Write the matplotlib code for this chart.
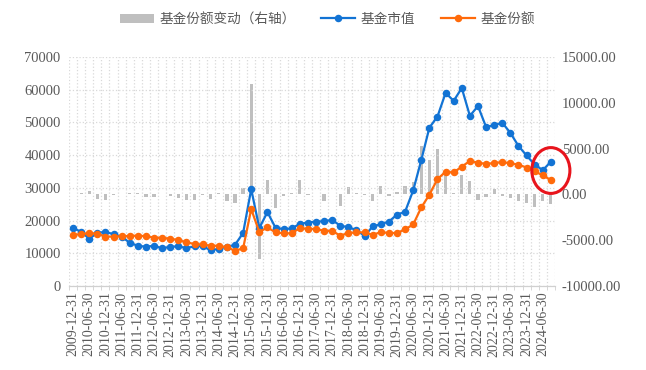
import numpy as np
import pandas as pd
import matplotlib
matplotlib.use("Agg")
import matplotlib.pyplot as plt
from matplotlib.patches import Ellipse, Patch
from matplotlib.lines import Line2D

plt.rcParams['font.family'] = ['Liberation Serif', 'Noto Sans CJK SC', 'DejaVu Sans']

# quarter-end dates 2009-12-31 .. 2024-09-30
dates = pd.date_range("2009-12-31", periods=60, freq="QE").strftime("%Y-%m-%d").tolist()

# 基金市值 (left axis)
market_value = [17800, 16500, 14500, 16200, 16600, 15800, 15100, 13200, 12300, 12000,
                12300, 11500, 12000, 12100, 11600, 12100, 12200, 10900, 11400, 12000,
                12600, 16200, 29600, 17700, 22600, 17800, 17400, 17600, 19000, 19400,
                19700, 19800, 20200, 18400, 18000, 17100, 15300, 18200, 18900, 19700,
                21800, 22700, 29200, 38500, 48400, 51800, 59000, 56600, 60500, 52000,
                55000, 48600, 49200, 49900, 46800, 42800, 39900, 37100, 35400, 38000]

# 基金份额 (left axis)
shares = [15700, 15800, 16200, 16000, 15100, 15100, 15200, 15300, 15400, 15200,
          14800, 14700, 14500, 14000, 13400, 12800, 12700, 12300, 12300, 11800,
          10800, 11500, 23500, 16500, 17900, 16400, 16100, 16100, 17700, 17500,
          17400, 16900, 16800, 15400, 16200, 16400, 16400, 15600, 16500, 16200,
          16200, 17300, 18800, 24000, 27900, 32700, 34900, 34700, 36500, 38200,
          37700, 37300, 37600, 37900, 37500, 37100, 36200, 35100, 33800, 32400]

# 基金份额变动 (right axis)
share_change = [0, 100, 370, -470, -600, -50, 50, 100, 100, -250,
                -250, 50, -200, -400, -600, -620, -30, -510, 100, -730,
                -910, 730, 12000, -7100, 1570, -1530, -150, 100, 1530, -30,
                30, -690, 30, -1240, 800, 180, -30, -690, 870, -220,
                220, 910, 1310, 5240, 3750, 4950, 2110, 100, 2110, 1460,
                -620, -290, 620, -150, -440, -730, -980, -1350, -730, -1020]

blue = '#1273D4'
orange = '#FF6A0A'
grey = '#BFBFBF'
tick_c = '#595959'

fig = plt.figure(figsize=(6.46, 3.70), dpi=100)
ax = fig.add_axes([0.1068, 0.227, 0.7522, 0.619])
ax2 = ax.twinx()

x = np.arange(len(dates))

ax2.bar(x, share_change, width=0.4, color=grey, zorder=1)
ax.plot(x, market_value, color=blue, lw=1.6, marker='o', ms=4.4, zorder=3)
ax.plot(x, shares, color=orange, lw=1.6, marker='o', ms=4.4, zorder=3)

# lines above bars
ax.set_zorder(ax2.get_zorder() + 1)
ax.patch.set_visible(False)

ax.set_xlim(-0.5, len(dates) - 0.5)
ax.set_ylim(0, 70000)
ax2.set_ylim(-10000, 15000)
ax.set_yticks(np.arange(0, 70001, 10000))
ax2.set_yticks(np.arange(-10000, 15001, 5000))
ax2.set_yticklabels([f"{v:.2f}" for v in np.arange(-10000, 15001, 5000)])

ax.set_xticks(x[::2])
ax.set_xticklabels(dates[::2], rotation=90)
ax.set_xticks(np.arange(-0.5, len(dates), 1), minor=True)
ax.tick_params(axis='x', which='major', length=0, pad=4, labelsize=10, colors=tick_c)
ax.tick_params(axis='x', which='minor', length=3, color='#D0D0D0')
ax.tick_params(axis='y', length=0, labelsize=10.5, colors=tick_c, pad=6)
ax2.tick_params(axis='y', length=0, labelsize=10.5, colors=tick_c, pad=5)

ax.grid(axis='y', ls=':', color='#D9D9D9', lw=0.9)
ax.grid(axis='x', which='minor', ls=':', color='#D9D9D9', lw=0.9)
ax.grid(axis='x', which='major', visible=False)

for a in (ax, ax2):
    for s in ('top', 'left', 'right'):
        a.spines[s].set_visible(False)
    a.spines['bottom'].set_color('#D0D0D0')

# red circle round the latest values
ell = Ellipse((59.0, 35300), width=4.7, height=14000, fill=False,
              edgecolor='#E8141C', lw=2.2, zorder=5, clip_on=False)
ax.add_patch(ell)

handles = [Patch(facecolor=grey, edgecolor='none'),
           Line2D([], [], color=blue, lw=1.6, marker='o', ms=4.4),
           Line2D([], [], color=orange, lw=1.6, marker='o', ms=4.4)]
labels = ['基金份额变动（右轴）', '基金市值', '基金份额']
fig.legend(handles, labels, loc='upper center', bbox_to_anchor=(0.507, 1.0), ncol=3,
           frameon=False, handlelength=2.5, handletextpad=0.4, columnspacing=1.9,
           prop={'family': ['Noto Sans CJK SC', 'DejaVu Sans'], 'size': 9.8},
           labelcolor=tick_c)

fig.savefig('out.png', dpi=100)
